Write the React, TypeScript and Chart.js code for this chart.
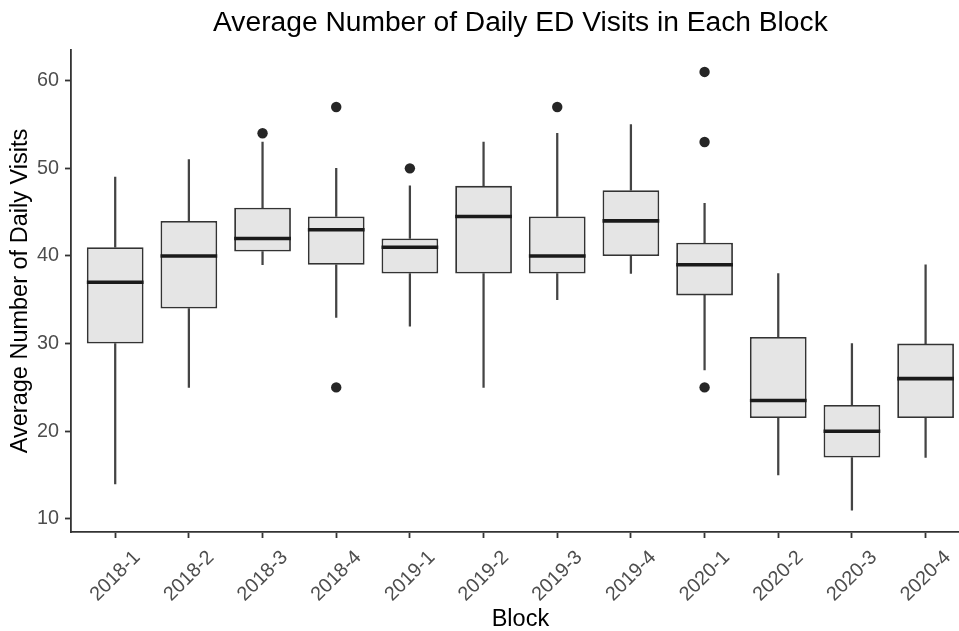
import React, { useEffect, useRef } from 'react';
import { Chart, registerables } from 'chart.js';

Chart.register(...registerables);

const categories = ['2018-1', '2018-2', '2018-3', '2018-4', '2019-1', '2019-2', '2019-3', '2019-4', '2020-1', '2020-2', '2020-3', '2020-4'];
const whiskerLow = [14, 25, 39, 33, 32, 25, 35, 38, 27, 15, 11, 17];
const q1 = [30, 34, 40.5, 39, 38, 38, 38, 40, 35.5, 21.5, 17, 21.5];
const medians = [37, 40, 42, 43, 41, 44.5, 40, 44, 39, 23.5, 20, 26];
const q3 = [41, 44, 45.5, 44.5, 42, 48, 44.5, 47.5, 41.5, 30.75, 23, 30];
const whiskerHigh = [49, 51, 53, 50, 48, 53, 54, 55, 46, 38, 30, 39];

const outlierBlocks = ['2018-3', '2018-4', '2018-4', '2019-1', '2019-3', '2020-1', '2020-1', '2020-1'];
const outlierValues = [54, 57, 25, 50, 57, 61, 53, 25];

const yTickValues = [10, 20, 30, 40, 50, 60];

const FONT = "'Liberation Sans', Arial, Helvetica, sans-serif";
const AXIS = '#333333';

const medianPlugin = {
  id: 'medianLines',
  afterDatasetsDraw(chart: any) {
    const meta = chart.getDatasetMeta(2);
    const yScale = chart.scales.y;
    const ctx = chart.ctx;
    ctx.save();
    ctx.strokeStyle = '#1a1a1a';
    ctx.lineWidth = 3.6;
    meta.data.forEach((bar: any, i: number) => {
      const { x, width } = bar.getProps(['x', 'width'], true);
      const py = yScale.getPixelForValue(medians[i]);
      ctx.beginPath();
      ctx.moveTo(x - width / 2, py);
      ctx.lineTo(x + width / 2, py);
      ctx.stroke();
    });
    ctx.restore();
  },
};

export default function App() {
  const ref = useRef<HTMLCanvasElement | null>(null);

  useEffect(() => {
    if (!ref.current) return;
    const idx = categories.map((_, i) => i);
    const chart = new Chart(ref.current, {
      type: 'bar',
      data: {
        datasets: [
          {
            type: 'bar',
            label: 'upper whisker',
            data: idx.map((i) => ({ x: i, y: [q3[i], whiskerHigh[i]] })) as any,
            backgroundColor: '#444444',
            borderWidth: 0,
            barThickness: 1.6,
            grouped: false,
            order: 3,
          },
          {
            type: 'bar',
            label: 'lower whisker',
            data: idx.map((i) => ({ x: i, y: [whiskerLow[i], q1[i]] })) as any,
            backgroundColor: '#444444',
            borderWidth: 0,
            barThickness: 1.6,
            grouped: false,
            order: 3,
          },
          {
            type: 'bar',
            label: 'box',
            data: idx.map((i) => ({ x: i, y: [q1[i], q3[i]] })) as any,
            backgroundColor: '#e5e5e5',
            borderColor: AXIS,
            borderWidth: 1.8,
            borderSkipped: false,
            barPercentage: 0.77,
            categoryPercentage: 1,
            grouped: false,
            order: 2,
          },
          {
            type: 'scatter',
            label: 'outliers',
            data: outlierBlocks.map((b, i) => ({ x: categories.indexOf(b), y: outlierValues[i] })) as any,
            backgroundColor: '#262626',
            borderWidth: 0,
            pointRadius: 5.2,
            order: 1,
          } as any,
        ],
      },
      options: {
        animation: false,
        responsive: false,
        maintainAspectRatio: false,
        layout: { padding: 0 },
        plugins: {
          legend: { display: false },
          tooltip: { enabled: false },
          title: {
            display: true,
            text: 'Average Number of Daily ED Visits in Each Block',
            color: '#000000',
            fullSize: false,
            font: { family: FONT, size: 28.2, weight: 'normal' },
            padding: { top: 6.5, bottom: 9.7 },
          },
        },
        scales: {
          x: {
            type: 'linear',
            min: -0.6,
            max: 11.6,
            offset: false,
            afterBuildTicks: (s: any) => {
              s.ticks = idx.map((i) => ({ value: i }));
            },
            afterFit: (s: any) => {
              s.height = 99;
            },
            ticks: {
              autoSkip: false,
              minRotation: 45,
              maxRotation: 45,
              labelOffset: 22,
              padding: 8,
              color: '#4d4d4d',
              font: { family: FONT, size: 19.8 },
              callback: (v: any) => categories[Math.round(Number(v))],
            },
            grid: { offset: false, drawOnChartArea: false, drawTicks: true, tickLength: 6, tickColor: AXIS, tickWidth: 1.8 },
            border: { display: true, color: AXIS, width: 1.8 },
            title: {
              display: true,
              text: 'Block',
              color: '#000000',
              font: { family: FONT, size: 23.5 },
              padding: { top: 0, bottom: -3 },
            },
          },
          y: {
            type: 'linear',
            min: 8.5,
            max: 63.5,
            afterBuildTicks: (s: any) => {
              s.ticks = yTickValues.map((v) => ({ value: v }));
            },
            afterFit: (s: any) => {
              s.width = 71;
            },
            ticks: {
              padding: 6,
              color: '#4d4d4d',
              font: { family: FONT, size: 19.8 },
            },
            grid: { drawOnChartArea: false, drawTicks: true, tickLength: 6, tickColor: AXIS, tickWidth: 1.8 },
            border: { display: true, color: AXIS, width: 1.8 },
            title: {
              display: true,
              text: 'Average Number of Daily Visits',
              color: '#000000',
              font: { family: FONT, size: 23.5 },
              padding: { top: 6, bottom: 0 },
            },
          },
        },
      },
      plugins: [medianPlugin],
    });
    return () => chart.destroy();
  }, []);

  return (
    <div style={{ position: 'absolute', left: 0, top: 0, width: 959, height: 631, overflow: 'hidden', background: '#ffffff' }}>
      <canvas ref={ref} width={975} height={631} style={{ width: 975, height: 631, display: 'block' }} />
    </div>
  );
}
